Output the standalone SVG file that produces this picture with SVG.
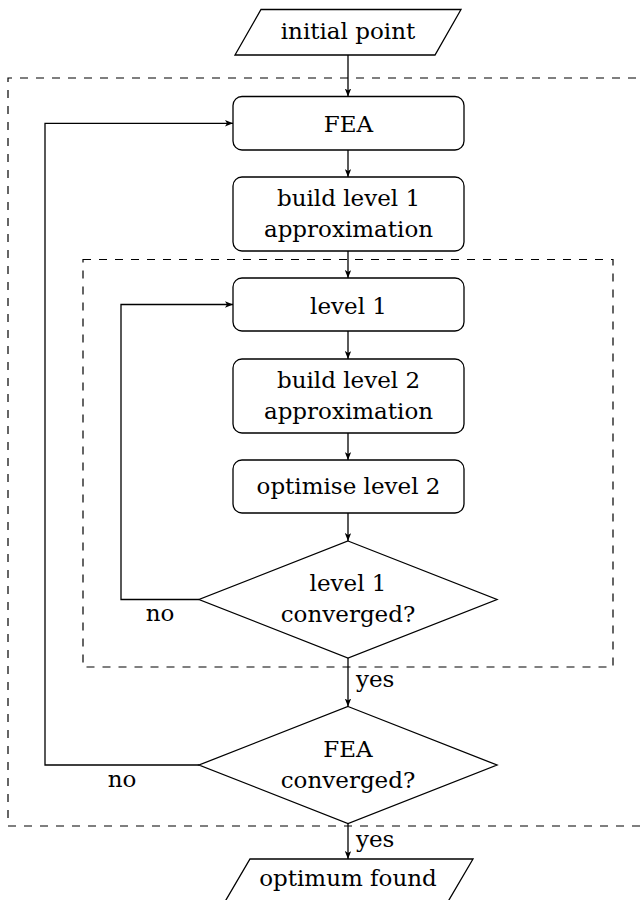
<svg xmlns="http://www.w3.org/2000/svg" width="644" height="900" viewBox="0 0 644 900">
  <style>
    .node { fill: #ffffff; stroke: #000000; stroke-width: 1.3; }
    .frame { fill: none; stroke: #000000; stroke-width: 1.2; stroke-dasharray: 8 8; }
    .edge { fill: none; stroke: #000000; stroke-width: 1.3; }
    .edge-arrow { marker-end: url(#arrow); }
    .lbl { text-anchor: start; }
    text { font-family: 'DejaVu Serif', serif; font-size: 23px; fill: #000000; text-anchor: middle; }
  </style>
  <defs>
    <marker id="arrow" viewBox="0 0 10 8" refX="10" refY="4" markerWidth="8" markerHeight="6.4" markerUnits="userSpaceOnUse" orient="auto">
      <path d="M0,0 L10,4 L0,8 L2.5,4 Z" fill="#000000"/>
    </marker>
  </defs>

  <rect width="644" height="900" fill="#ffffff"/>

  <!-- dashed grouping frames -->
  <g id="frames">
    <path class="frame" d="M652,78 H8 V826 H652"/>
    <rect class="frame" x="83" y="259.5" width="530" height="407.5"/>
  </g>

  <!-- connectors -->
  <g id="connectors">
    <path class="edge edge-arrow" d="M348,55 V96.5"/>
    <path class="edge edge-arrow" d="M348,150 V177"/>
    <path class="edge edge-arrow" d="M348,251 V278"/>
    <path class="edge edge-arrow" d="M348,331 V359"/>
    <path class="edge edge-arrow" d="M348,433 V460"/>
    <path class="edge edge-arrow" d="M348,513 V541"/>
    <path class="edge edge-arrow" d="M348,658 V706.5"/>
    <path class="edge edge-arrow" d="M348,823.5 V859"/>
    <path class="edge edge-arrow" d="M199,599.5 H121 V304.5 H233"/>
    <path class="edge edge-arrow" d="M199,765 H45 V123.3 H233"/>
    <text class="lbl" x="356" y="687">yes</text>
    <text class="lbl" x="356" y="847">yes</text>
    <text x="160" y="621">no</text>
    <text x="122" y="787">no</text>
  </g>

  <g id="start">
    <polygon class="node" points="261,9.5 461,9.5 435,55 235,55"/>
    <text x="348" y="38.5">initial point</text>
  </g>

  <g id="fea">
    <rect class="node" x="233" y="96.5" width="231" height="53.5" rx="9"/>
    <text x="348.5" y="132">FEA</text>
  </g>

  <g id="build-level-1">
    <rect class="node" x="233" y="177" width="231" height="74" rx="9"/>
    <text x="348.5" y="205.5">build level 1</text>
    <text x="348.5" y="236.5">approximation</text>
  </g>

  <g id="level-1">
    <rect class="node" x="233" y="278" width="231" height="53" rx="9"/>
    <text x="348.5" y="313.5">level 1</text>
  </g>

  <g id="build-level-2">
    <rect class="node" x="233" y="359" width="231" height="74" rx="9"/>
    <text x="348.5" y="387.5">build level 2</text>
    <text x="348.5" y="418.5">approximation</text>
  </g>

  <g id="optimise-level-2">
    <rect class="node" x="233" y="460" width="231" height="53" rx="9"/>
    <text x="348.5" y="493.5">optimise level 2</text>
  </g>

  <g id="level-1-converged">
    <polygon class="node" points="348,541 497,599.5 348,658 199,599.5"/>
    <text x="348" y="591">level 1</text>
    <text x="348" y="622">converged?</text>
  </g>

  <g id="fea-converged">
    <polygon class="node" points="348,706.5 497,765 348,823.5 199,765"/>
    <text x="348" y="756.5">FEA</text>
    <text x="348" y="787.5">converged?</text>
  </g>

  <g id="end">
    <polygon class="node" points="250,859 473,859 446,905 223,905"/>
    <text x="348" y="886">optimum found</text>
  </g>
</svg>
